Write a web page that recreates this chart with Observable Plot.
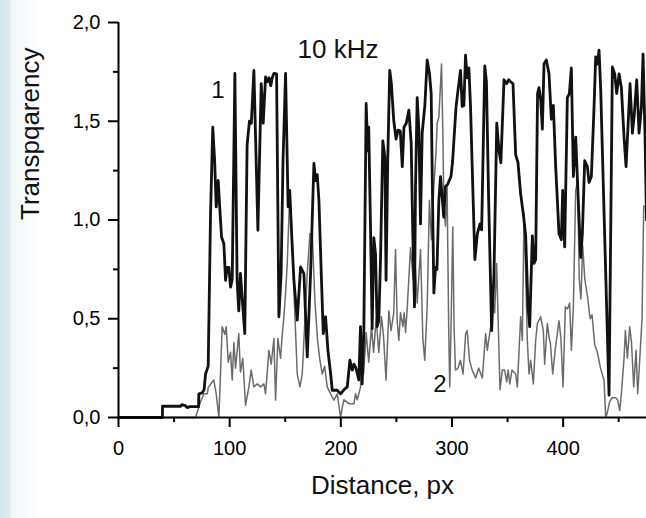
<!DOCTYPE html>
<html><head><meta charset="utf-8">
<script src="https://cdn.jsdelivr.net/npm/d3@7"></script>
<script src="https://cdn.jsdelivr.net/npm/@observablehq/plot@0.6"></script>
<style>
html,body{margin:0;padding:0;}
body{width:646px;height:518px;overflow:hidden;background:linear-gradient(to right,#d4e8ef 0px,#dbecf2 10px,#f1f7f9 11px,#ffffff 40px);font-family:"Liberation Sans",Arial,sans-serif;}
</style></head><body><div id="chart"></div>
<script>
// Curve 1 (black)
const dist1 = [0,39.5,39.6,56,57,60,62,64,72,72.3,75.3,77,78.3,80.7,82.8,84.8,86.5,87.9,89.7,90.9,92.7,94.8,96.3,97.8,99.3,100.8,102.3,104.7,106.7,108.2,109.7,111.2,113.6,115.7,117.8,119.5,121.8,125.4,128.4,130.2,132.3,134,135.5,137,138.3,139.8,142.2,144.3,146.3,148,150.3,152.6,154,156,157.8,160.8,163.8,166.8,169.8,172.8,175.8,177.3,178.8,180.3,182.4,184.2,186.3,188.4,190.8,192.3,196.8,199.8,202.8,205.8,208.2,210.3,211.8,213.2,214.8,216.2,217.7,219.2,220.7,222.8,224.2,225.1,226.7,228.2,229.7,231.2,232.7,234.2,235.7,237.8,239.6,240.7,242.2,244,245.5,247.6,249.7,251.5,253.5,255.3,256.8,258.9,261.2,263.3,264.8,266.3,267.2,268.7,270.2,271.7,273.2,275.6,277.7,279.8,281.3,282.2,283.7,285.2,286.5,288.2,289.7,292.6,294.1,296,299.1,300.6,302.5,303.7,305.5,307.7,309.2,310.7,312.2,313.7,315.2,316.7,318.2,320.6,322.8,325.2,326.7,329.5,331,333,335.7,337.8,340.3,342.3,344,346.8,349.2,351,352.8,354.9,357.3,359.4,361.8,364.2,366.3,368.4,369.9,372.3,373.8,375.3,377,378.3,379.8,381.3,382.8,384.9,387.3,389.4,391.2,393.3,396.3,398.4,399.6,401.4,403.8,405.6,407.4,409.2,411.3,413.4,415.8,417.3,419.4,421.8,423.3,425.4,427.8,429.3,430.8,432.3,433.8,441.3,444.3,446.4,448.2,450.3,452.4,454.8,456.6,458.4,460.2,462.3,463.8,466.2,468.3,470.4,471.9,473.7,475];
const trans1 = [0,0,0.057,0.057,0.065,0.06,0.05,0.055,0.055,0.12,0.125,0.14,0.22,0.26,1.03,1.47,1.3,1.066,1.2,1.08,0.914,0.88,0.695,0.76,0.76,0.66,0.7,1.742,0.695,0.54,0.73,0.61,0.425,1.38,1.5,1.49,1.758,0.948,1.69,1.49,1.725,1.70,1.72,1.68,1.72,1.742,1.74,0.51,0.73,1.3,1.742,1.066,1.15,0.9,0.695,0.493,0.763,0.729,0.307,0.729,1.286,1.2,1.23,1.1,0.73,0.425,0.51,0.34,0.223,0.138,0.138,0.12,0.14,0.155,0.29,0.24,0.27,0.256,0.223,0.19,0.46,0.17,0.43,1.59,1.35,1.47,0.965,0.45,0.91,0.83,0.46,0.49,0.8,1.40,1.32,0.695,1.30,1.758,1.69,1.505,1.41,1.455,1.45,1.27,1.47,1.49,1.556,1.39,0.92,0.56,1.17,1.62,1.46,0.98,1.44,1.58,1.81,1.74,1.64,1.235,0.63,0.76,0.75,1.10,1.22,1.015,1.17,1.18,1.22,1.30,1.47,1.575,1.66,1.758,1.575,1.58,1.835,1.72,1.77,1.575,1.27,0.8,0.93,0.98,0.95,1.78,1.7,1.1,0.44,0.73,1.49,1.35,1.29,1.71,1.69,1.71,1.70,1.69,1.33,1.29,1.13,1.03,0.92,0.56,0.46,0.92,0.78,0.8,1.64,1.67,1.61,1.46,1.79,1.81,1.74,1.51,1.58,1.27,0.93,0.9,1.15,0.864,1.62,1.64,1.77,1.22,1.42,1.13,0.81,0.93,1.30,1.27,1.19,1.22,1.57,1.826,1.79,1.86,1.66,0.113,1.775,1.74,1.64,1.74,1.67,1.42,1.27,1.48,1.69,1.44,1.52,1.71,1.44,1.57,1.84,1.42,1.0];
// Curve 2 (gray)
const dist2 = [0,69.3,73.8,76.8,79.8,80.7,83,85.7,87.9,90.3,93.3,95.7,96.9,98.7,100.8,102.3,103.8,105.3,108.2,109.7,111.8,114.3,117.3,119.4,121.8,124.8,127.8,130.8,132.3,135.3,137.4,139.8,141.3,143.4,145.8,147.3,148.8,150.3,151.8,154.2,156.3,158.4,160.8,163.2,165.3,166.8,169.8,172.2,174.3,176.7,179.1,181.2,183.3,185.4,187.8,190.8,193.8,196.8,199.8,201.3,202.8,207.3,211.8,213.2,214.8,217.8,219.2,220.5,222.8,225.1,227.6,229.5,231.8,234.2,236.6,238.3,240.7,243.2,245.2,247.6,249.2,250.7,252.2,253.7,255.8,257,258.3,259.8,262.7,265,267.2,268.7,271.7,273.8,275.5,277.7,279.7,281.5,283.7,285.7,286.7,288.2,290.6,291.8,292.7,294.1,295.6,297.1,298,299.3,300.7,301.9,303.1,305.5,307.6,310,312.3,313.7,315.8,318.2,321.3,324,327.3,330.3,331.8,334.8,336.5,338.4,340.2,341.5,343.2,345.3,347.4,349.2,350.5,352,354,357.3,358.8,361.8,363.3,364.8,366.3,367.8,369.3,370.8,373.2,375.3,376.8,379.8,382.2,383.4,385.8,387.5,388.5,390.6,393,396.3,398,399.9,402,404,405.9,407.4,409.2,411.3,413,414.5,416,417.6,419.5,422,424.3,426,428.4,430.8,433.8,436.8,438.3,439.5,441.9,444,447.3,449,450.9,452.4,454.8,456,457.8,459.9,461.5,463.5,465.6,467.1,469,471,472.5,475];
const trans2 = [0,0,0.08,0.12,0.12,0.15,0.17,0.19,0.12,0.0,0.46,0.42,0.46,0.28,0.33,0.19,0.38,0.25,0.425,0.23,0.3,0.062,0.155,0.24,0.155,0.17,0.155,0.17,0.12,0.34,0.27,0.40,0.088,0.40,0.3,0.42,0.51,0.63,0.78,1.15,0.9,0.56,0.22,0.155,0.22,0.39,0.73,0.93,0.93,0.59,0.39,0.29,0.22,0.26,0.155,0.12,0.088,0.12,0.0,0.05,0.09,0.07,0.07,0.12,0.09,0.155,0.3,0.22,0.43,0.28,0.46,0.33,0.5,0.33,0.51,0.42,0.19,0.54,0.44,0.53,0.85,0.49,0.39,0.53,0.46,0.53,0.43,0.56,0.86,0.7,0.75,0.58,0.85,0.4,0.29,0.56,1.10,0.9,1.17,1.35,1.49,1.52,1.79,1.44,1.07,0.97,1.17,0.425,0.155,0.5,0.965,0.46,0.24,0.25,0.29,0.22,0.425,0.44,0.29,0.24,0.2,0.25,0.2,0.425,0.34,0.46,0.6,0.53,0.78,0.5,0.14,0.24,0.24,0.18,0.24,0.17,0.24,0.22,0.155,0.51,0.39,1.03,0.73,0.39,0.22,0.29,0.17,0.39,0.476,0.51,0.44,0.27,0.476,0.4,0.38,0.22,0.35,0.49,0.4,0.155,0.56,0.55,0.58,0.34,0.56,1.15,1.2,0.7,0.6,0.87,0.7,0.61,0.5,0.52,0.37,0.33,0.245,0.19,0.0,0.02,0.08,0.1,0.1,0.09,0.035,0.12,0.3,0.44,0.3,0.46,0.38,0.155,0.34,0.12,0.3,0.5,1.07,1.07];

const xTicks = [0, 100, 200, 300, 400];
const xMinor = [50, 150, 250, 350, 450];
const yTicks = [0, 0.5, 1.0, 1.5, 2.0];
const yMinor = [0.25, 0.75, 1.25, 1.75];
const noteText = ["10 kHz", "1", "2"];
const noteX = [197.5, 89.4, 289.2];
const noteY = [1.82, 1.617, 0.128];
const noteSize = [26, 24, 24];
const xTitle = "Distance, px";
const yTitle = "Transpqarency";

if (dist1.length !== trans1.length) throw new Error("series 1 length " + dist1.length + " vs " + trans1.length);
if (dist2.length !== trans2.length) throw new Error("series 2 length " + dist2.length + " vs " + trans2.length);

const s1 = dist1.map((d, i) => ({x: d, y: trans1[i]}));
const s2 = dist2.map((d, i) => ({x: d, y: trans2[i]}));
const notes = noteText.map((t, i) => ({t, x: noteX[i], y: noteY[i], s: noteSize[i]}));
const fmt = d => d.toFixed(1).replace(".", ",");

const plot = Plot.plot({
  width: 646, height: 518,
  marginLeft: 118, marginRight: 0, marginTop: 22, marginBottom: 101,
  style: {background: "transparent", fontFamily: "Liberation Sans, Arial, sans-serif", color: "#000", overflow: "visible"},
  x: {domain: [0, 475], axis: null},
  y: {domain: [0, 2], axis: null},
  marks: [
    Plot.line(s2, {x: "x", y: "y", stroke: "#6b6b6b", strokeWidth: 1.5, strokeLinejoin: "round"}),
    Plot.line(s1, {x: "x", y: "y", stroke: "#111", strokeWidth: 2.8, strokeLinejoin: "round"}),
    Plot.ruleX([0], {stroke: "#000", strokeWidth: 2}),
    Plot.ruleY([0], {stroke: "#000", strokeWidth: 2}),
    Plot.axisX({ticks: xTicks, tickSize: 10, tickPadding: 13, fontSize: 20, strokeWidth: 2, tickFormat: d => String(d), label: null}),
    Plot.axisX({ticks: xMinor, tickSize: 5, strokeWidth: 2, tickFormat: () => "", label: null}),
    Plot.axisY({ticks: yTicks, tickSize: 10, tickPadding: 8, fontSize: 20, strokeWidth: 2, tickFormat: fmt, label: null}),
    Plot.axisY({ticks: yMinor, tickSize: 5, strokeWidth: 2, tickFormat: () => "", label: null}),
    Plot.text(notes, {x: "x", y: "y", text: "t", fontSize: "s", lineAnchor: "bottom", fill: "#111"}),
    Plot.text([xTitle], {text: d => d, frameAnchor: "bottom", dy: 58, lineAnchor: "top", fontSize: 26, fill: "#111"}),
    Plot.text([yTitle], {text: d => d, frameAnchor: "left", dx: -88, rotate: -90, fontSize: 26, fill: "#111"})
  ]
});
document.getElementById("chart").appendChild(plot);
</script>
</body></html>
